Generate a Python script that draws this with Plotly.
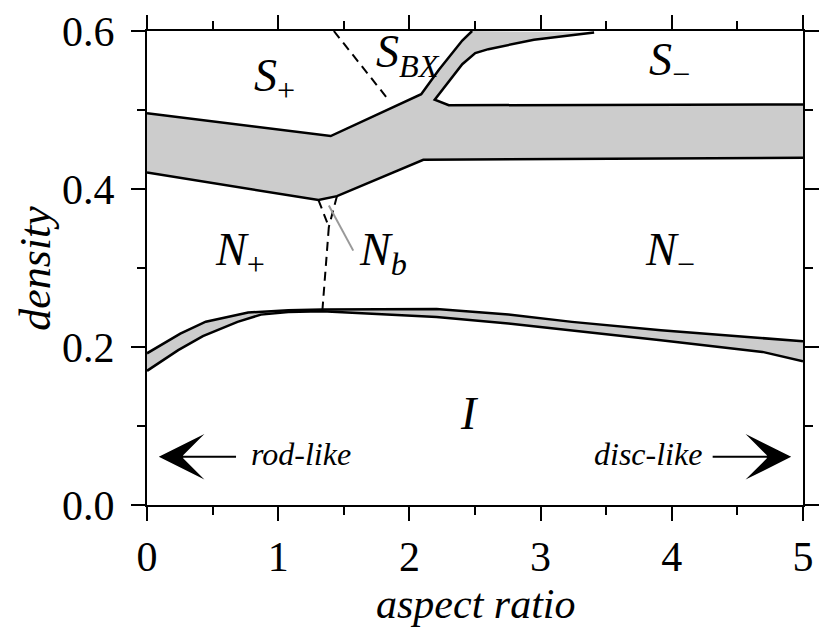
import plotly.graph_objects as go

# ---------------- data ----------------
# upper two-phase band (S+ / N+ and S_BX / N_b region)
up_top_x = [0.0, 1.40, 2.09, 2.167, 2.225, 2.403, 2.478]
up_top_y = [0.496, 0.467, 0.520, 0.537, 0.551, 0.588, 0.600]
# S_BX / S- boundary band, right edge, continuing into the S- / N- band top
sm_edge_x = [3.408, 2.949, 2.602, 2.502, 2.403, 2.193, 2.30, 5.0]
sm_edge_y = [0.598, 0.589, 0.577, 0.572, 0.558, 0.513, 0.506, 0.507]
# bottom of the upper band
up_bot_x = [0.0, 1.307, 1.448, 2.106, 5.0]
up_bot_y = [0.421, 0.386, 0.391, 0.437, 0.4396]

# lower two-phase band (I / N)
lo_top_x = [0.0, 0.254, 0.448, 0.771, 1.077, 1.336, 2.207, 2.755, 3.239, 3.917, 4.627, 5.0]
lo_top_y = [0.192, 0.217, 0.232, 0.2436, 0.2465, 0.2474, 0.2482, 0.241, 0.2318, 0.2212, 0.212, 0.2073]
lo_bot_x = [0.0, 0.238, 0.426, 0.69, 0.868, 1.077, 1.336, 2.207, 2.755, 3.239, 3.917, 4.691, 5.0]
lo_bot_y = [0.1698, 0.196, 0.2137, 0.2318, 0.241, 0.2444, 0.2453, 0.238, 0.2297, 0.2212, 0.2086, 0.1938, 0.182]

# dashed boundaries
sbx_x = [1.424, 1.845]
sbx_y = [0.600, 0.512]
nb_left_x = [1.307, 1.386]
nb_left_y = [0.386, 0.352]
nb_right_x = [1.448, 1.386]
nb_right_y = [0.391, 0.352]
nn_x = [1.386, 1.337]
nn_y = [0.352, 0.2465]

# pointer to N_b
ptr_x = [1.386, 1.572]
ptr_y = [0.379, 0.322]

# phase labels: (text, x, y)
labels = [
    ("<i>S</i><sub>+</sub>", 0.80, 0.539),
    ("<i>S</i><sub><i>BX</i></sub>", 1.73, 0.569),
    ("<i>S</i><sub>−</sub>", 3.81, 0.559),
    ("<i>N</i><sub>+</sub>", 0.50, 0.319),
    ("<i>N</i><sub><i>b</i></sub>", 1.60, 0.319),
    ("<i>N</i><sub>−</sub>", 3.78, 0.319),
]
i_label = ("<i>I</i>", 2.46, 0.116)

x_title = "aspect ratio"
y_title = "density"

FONT = "Liberation Serif, Times New Roman, serif"
GRAY = "#cccccc"

fig = go.Figure()

poly_up_x = up_top_x + sm_edge_x + up_bot_x[::-1]
poly_up_y = up_top_y + sm_edge_y + up_bot_y[::-1]
fig.add_trace(go.Scatter(x=poly_up_x, y=poly_up_y, fill="toself", fillcolor=GRAY,
                         mode="none", hoverinfo="skip", showlegend=False))
fig.add_trace(go.Scatter(x=lo_top_x + lo_bot_x[::-1], y=lo_top_y + lo_bot_y[::-1],
                         fill="toself", fillcolor=GRAY, mode="none",
                         hoverinfo="skip", showlegend=False))

solid = dict(color="black", width=2.5)
for xs, ys in [(up_top_x, up_top_y), (sm_edge_x, sm_edge_y), (up_bot_x, up_bot_y),
               (lo_top_x, lo_top_y), (lo_bot_x, lo_bot_y)]:
    fig.add_trace(go.Scatter(x=xs, y=ys, mode="lines", line=solid,
                             hoverinfo="skip", showlegend=False))

dashed = dict(color="black", width=2, dash="9px,6px")
for xs, ys in [(sbx_x, sbx_y), (nb_left_x, nb_left_y), (nb_right_x, nb_right_y), (nn_x, nn_y)]:
    fig.add_trace(go.Scatter(x=xs, y=ys, mode="lines", line=dashed,
                             hoverinfo="skip", showlegend=False))

fig.add_trace(go.Scatter(x=ptr_x, y=ptr_y, mode="lines", line=dict(color="#999999", width=2),
                         hoverinfo="skip", showlegend=False))

for txt, lx, ly in labels:
    fig.add_annotation(x=lx, y=ly, text=txt, showarrow=False, xanchor="left", yanchor="middle",
                       font=dict(family=FONT, size=46, color="black"))
fig.add_annotation(x=i_label[1], y=i_label[2], text=i_label[0], showarrow=False,
                   xanchor="center", yanchor="middle", font=dict(family=FONT, size=46, color="black"))

# rod-like / disc-like arrows
fig.add_annotation(x=0.09, y=0.061, ax=0.69, ay=0.061, axref="x", ayref="y", xref="x", yref="y",
                   text="", showarrow=True, arrowhead=3, arrowsize=3.8, arrowwidth=2, arrowcolor="black")
fig.add_annotation(x=4.91, y=0.061, ax=4.30, ay=0.061, axref="x", ayref="y", xref="x", yref="y",
                   text="", showarrow=True, arrowhead=3, arrowsize=3.8, arrowwidth=2, arrowcolor="black")
fig.add_annotation(x=1.176, y=0.064, text="<i>rod-like</i>", showarrow=False,
                   font=dict(family=FONT, size=32, color="black"))
fig.add_annotation(x=3.817, y=0.064, text="<i>disc-like</i>", showarrow=False,
                   font=dict(family=FONT, size=32, color="black"))

# axis titles
fig.add_annotation(xref="paper", yref="paper", x=0.5, y=-0.208, text="<i>" + x_title + "</i>",
                   showarrow=False, xanchor="center", yanchor="middle",
                   font=dict(family=FONT, size=42, color="black"))
fig.add_annotation(xref="paper", yref="paper", x=-0.171, y=0.5, text="<i>" + y_title + "</i>",
                   showarrow=False, xanchor="center", yanchor="middle", textangle=-90,
                   font=dict(family=FONT, size=44, color="black"))

axis_common = dict(showline=True, linecolor="black", linewidth=2, mirror="ticks",
                   ticks="outside", tickcolor="black", tickwidth=2, ticklen=14,
                   showgrid=False, zeroline=False,
                   tickfont=dict(family=FONT, size=42, color="black"))

fig.update_xaxes(range=[0, 5], tickvals=[0, 1, 2, 3, 4, 5],
                 minor=dict(dtick=0.5, ticks="outside", ticklen=8, tickwidth=2, tickcolor="black"),
                 **axis_common)
fig.update_yaxes(range=[0, 0.6], tickvals=[0, 0.2, 0.4, 0.6], ticktext=["0.0", "0.2", "0.4", "0.6"],
                 minor=dict(dtick=0.1, ticks="outside", ticklen=8, tickwidth=2, tickcolor="black"),
                 ticklabelstandoff=8,
                 **axis_common)

fig.update_layout(width=828, height=627, margin=dict(l=147, r=9, t=30, b=122),
                  plot_bgcolor="white", paper_bgcolor="white")
fig.write_html("out.html")
